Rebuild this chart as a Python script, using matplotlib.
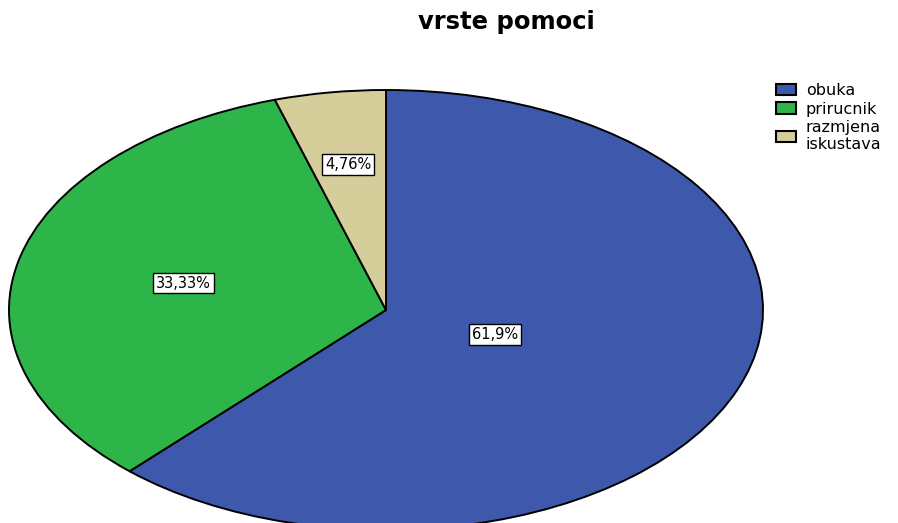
import numpy as np
import matplotlib.pyplot as plt
from matplotlib.patches import Patch

# ------------------------
# Data
# ------------------------

categories = ["obuka", "prirucnik", "razmjena\niskustava"]
counts = [13, 7, 1]
pct_labels = ["61,9%", "33,33%", "4,76%"]
colors = ["#3E58AC", "#2DB54A", "#D5CE9A"]

# radial position of each percent label (fraction of radius)
label_dist = [0.31, 0.55, 0.67]

# ------------------------
# Figure
# ------------------------

fig = plt.figure(figsize=(8.98, 5.23), dpi=100)
ax = fig.add_axes([9 / 898, -7 / 523, 754 / 898, 440 / 523])

wedges, _ = ax.pie(
    counts,
    colors=colors,
    startangle=90,
    counterclock=False,
    radius=1.0,
    wedgeprops={"edgecolor": "black", "linewidth": 1.4},
)
ax.set_aspect("auto")
ax.set_xlim(-1, 1)
ax.set_ylim(-1, 1)
ax.axis("off")

for w, txt, d in zip(wedges, pct_labels, label_dist):
    mid = np.deg2rad((w.theta1 + w.theta2) / 2)
    ax.text(
        d * np.cos(mid), d * np.sin(mid), txt,
        ha="center", va="center", family="DejaVu Sans", fontsize=10.5,
        bbox={"boxstyle": "square,pad=0.2", "facecolor": "white",
              "edgecolor": "black", "linewidth": 1.0},
    )

fig.text(506 / 898, 1 - 22 / 523, "vrste pomoci", ha="center", va="center",
         family="DejaVu Sans", fontweight="bold", fontsize=17.5)

handles = [Patch(facecolor=c, edgecolor="black", linewidth=1.5) for c in colors]
fig.legend(
    handles, categories,
    loc="upper left", bbox_to_anchor=(770 / 898, 1 - 77 / 523),
    frameon=False, prop={"family": "DejaVu Sans", "size": 11.5},
    handlelength=1.25, handleheight=0.7, handletextpad=0.6,
    labelspacing=0.2, borderaxespad=0,
)

fig.savefig("out.png", dpi=100)
